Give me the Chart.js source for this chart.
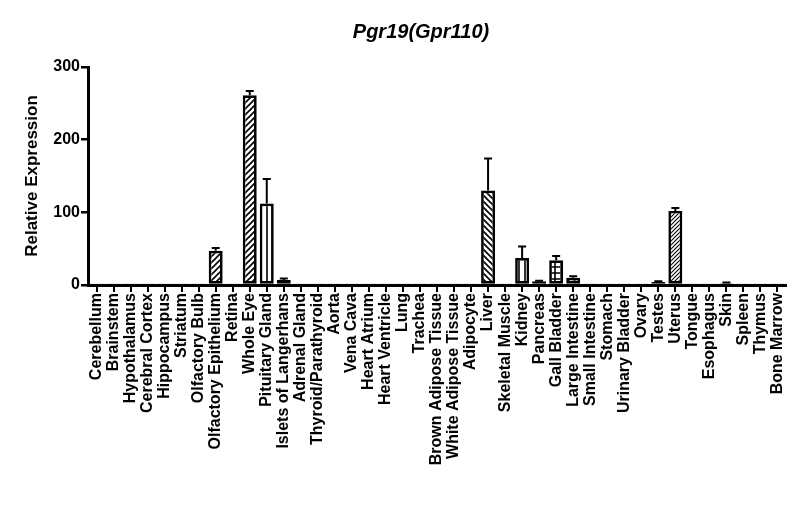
<!DOCTYPE html>
<html lang="en">
<head>
    <meta charset="UTF-8">
    <title>Pgr19(Gpr110)</title>
    <script src="https://cdn.jsdelivr.net/npm/chart.js"></script>
    <style>
        body { margin: 0; background: #fff; font-family: "Liberation Sans", Arial, sans-serif; }
        .wrap { position: relative; width: 800px; height: 524px; }
        .title { position: absolute; top: 20px; left: 321px; width: 200px; text-align: center;
                 font-size: 20px; font-weight: bold; font-style: italic; }
        canvas { position: absolute; top: 0; left: 0; }
    </style>
</head>
<body>
    <div class="wrap">
        <canvas id="chart" width="800" height="524"></canvas>
        <div class="title">Pgr19(Gpr110)</div>
    </div>
    <script>
        const tissues = [
            'Cerebellum', 'Brainstem', 'Hypothalamus', 'Cerebral Cortex', 'Hippocampus',
            'Striatum', 'Olfactory Bulb', 'Olfactory Epithelium', 'Retina', 'Whole Eye',
            'Pituitary Gland', 'Islets of Langerhans', 'Adrenal Gland', 'Thyroid/Parathyroid', 'Aorta',
            'Vena Cava', 'Heart Atrium', 'Heart Ventricle', 'Lung', 'Trachea',
            'Brown Adipose Tissue', 'White Adipose Tissue', 'Adipocyte', 'Liver', 'Skeletal Muscle',
            'Kidney', 'Pancreas', 'Gall Bladder', 'Large Intestine', 'Small Intestine',
            'Stomach', 'Urinary Bladder', 'Ovary', 'Testes', 'Uterus',
            'Tongue', 'Esophagus', 'Skin', 'Spleen', 'Thymus', 'Bone Marrow'
        ];
        const expression = [
            0.5, 0.5, 0.5, 0.5, 0.5,
            0.5, 0.8, 47, 0.3, 261,
            112, 7, 0.5, 0.5, 0.5,
            0.5, 0.5, 0.5, 0.8, 0.5,
            0.5, 0.5, 0.3, 130, 0.3,
            37, 5, 34, 10, 0.5,
            0.5, 0.5, 0.5, 4, 102,
            0.5, 0.5, 2.5, 0.5, 0.5, 0.5
        ];
        const sem = [
            0, 0, 0, 0, 0,
            0, 0, 4, 0, 6,
            34, 2, 0, 0, 0,
            0, 0, 0, 0, 0,
            0, 0, 0, 44, 0,
            16, 1, 6, 2, 0,
            0, 0, 0, 1, 4,
            0, 0, 1, 0, 0, 0
        ];
        const yTicks = [0, 100, 200, 300];

        // hatch fills per tissue
        const fills = {
            'Olfactory Epithelium': 'fwd',
            'Whole Eye': 'fwd',
            'Pituitary Gland': 'vert',
            'Liver': 'back',
            'Kidney': 'vert',
            'Gall Bladder': 'grid',
            'Large Intestine': 'back',
            'Uterus': 'dense'
        };

        function makePattern(kind) {
            const c = document.createElement('canvas');
            const s = kind === 'dense' ? 4 : 6;
            c.width = s; c.height = s;
            const g = c.getContext('2d');
            g.fillStyle = '#fff';
            g.fillRect(0, 0, s, s);
            g.strokeStyle = '#000';
            g.lineWidth = kind === 'dense' ? 1.1 : 1.6;
            g.beginPath();
            if (kind === 'fwd' || kind === 'dense') {
                g.moveTo(-1, s + 1); g.lineTo(s + 1, -1);
                g.moveTo(-1, 1); g.lineTo(1, -1);
                g.moveTo(s - 1, s + 1); g.lineTo(s + 1, s - 1);
            } else if (kind === 'back') {
                g.moveTo(-1, -1); g.lineTo(s + 1, s + 1);
                g.moveTo(s - 1, -1); g.lineTo(s + 1, 1);
                g.moveTo(-1, s - 1); g.lineTo(1, s + 1);
            } else if (kind === 'vert') {
                g.moveTo(s / 2, 0); g.lineTo(s / 2, s);
            } else if (kind === 'grid') {
                g.moveTo(s / 2, 0); g.lineTo(s / 2, s);
                g.moveTo(0, s / 2); g.lineTo(s, s / 2);
            }
            g.stroke();
            return g.createPattern(c, 'repeat');
        }

        const errorBars = {
            id: 'errorBars',
            afterDatasetsDraw(chart) {
                const { ctx, scales: { y } } = chart;
                const meta = chart.getDatasetMeta(0);
                ctx.save();
                ctx.strokeStyle = '#000';
                ctx.lineWidth = 2;
                meta.data.forEach((bar, i) => {
                    if (!sem[i]) return;
                    const base = y.getPixelForValue(expression[i]);
                    const top = y.getPixelForValue(expression[i] + sem[i]);
                    ctx.beginPath();
                    ctx.moveTo(bar.x, base);
                    ctx.lineTo(bar.x, top);
                    ctx.moveTo(bar.x - 4, top);
                    ctx.lineTo(bar.x + 4, top);
                    ctx.stroke();
                });
                ctx.restore();
            }
        };

        const font = 'Liberation Sans';

        new Chart(document.getElementById('chart'), {
            type: 'bar',
            data: {
                labels: tissues,
                datasets: [{
                    data: expression,
                    backgroundColor: tissues.map(t => fills[t] ? makePattern(fills[t]) : '#fff'),
                    borderColor: '#000',
                    borderWidth: 2.7,
                    borderSkipped: false,
                    barPercentage: 0.82,
                    categoryPercentage: 1
                }]
            },
            options: {
                responsive: false,
                animation: false,
                layout: { padding: { top: 67, left: 0, right: 14, bottom: 0 } },
                plugins: { legend: { display: false }, tooltip: { enabled: false } },
                scales: {
                    x: {
                        afterFit(scale) { scale.height = 239; },
                        border: { display: true, color: '#000', width: 3 },
                        grid: { offset: false, drawOnChartArea: false, drawTicks: true, tickLength: 7, lineWidth: 2, color: '#000' },
                        ticks: {
                            autoSkip: false, maxRotation: 90, minRotation: 90, padding: 1,
                            color: '#000', font: { family: font, size: 16, weight: 'bold' }
                        }
                    },
                    y: {
                        min: 0, max: 300,
                        afterFit(scale) { scale.width = 88; },
                        afterBuildTicks(scale) { scale.ticks = yTicks.map(v => ({ value: v })); },
                        border: { display: true, color: '#000', width: 3 },
                        grid: { drawOnChartArea: false, drawTicks: true, tickLength: 7, lineWidth: 2.5, color: '#000' },
                        ticks: { padding: 1, color: '#000', font: { family: font, size: 16, weight: 'bold' } },
                        title: {
                            display: true, text: 'Relative Expression', color: '#000',
                            padding: { top: 22 },
                            font: { family: font, size: 17, weight: 'bold' }
                        }
                    }
                }
            },
            plugins: [errorBars]
        });
    </script>
</body>
</html>
